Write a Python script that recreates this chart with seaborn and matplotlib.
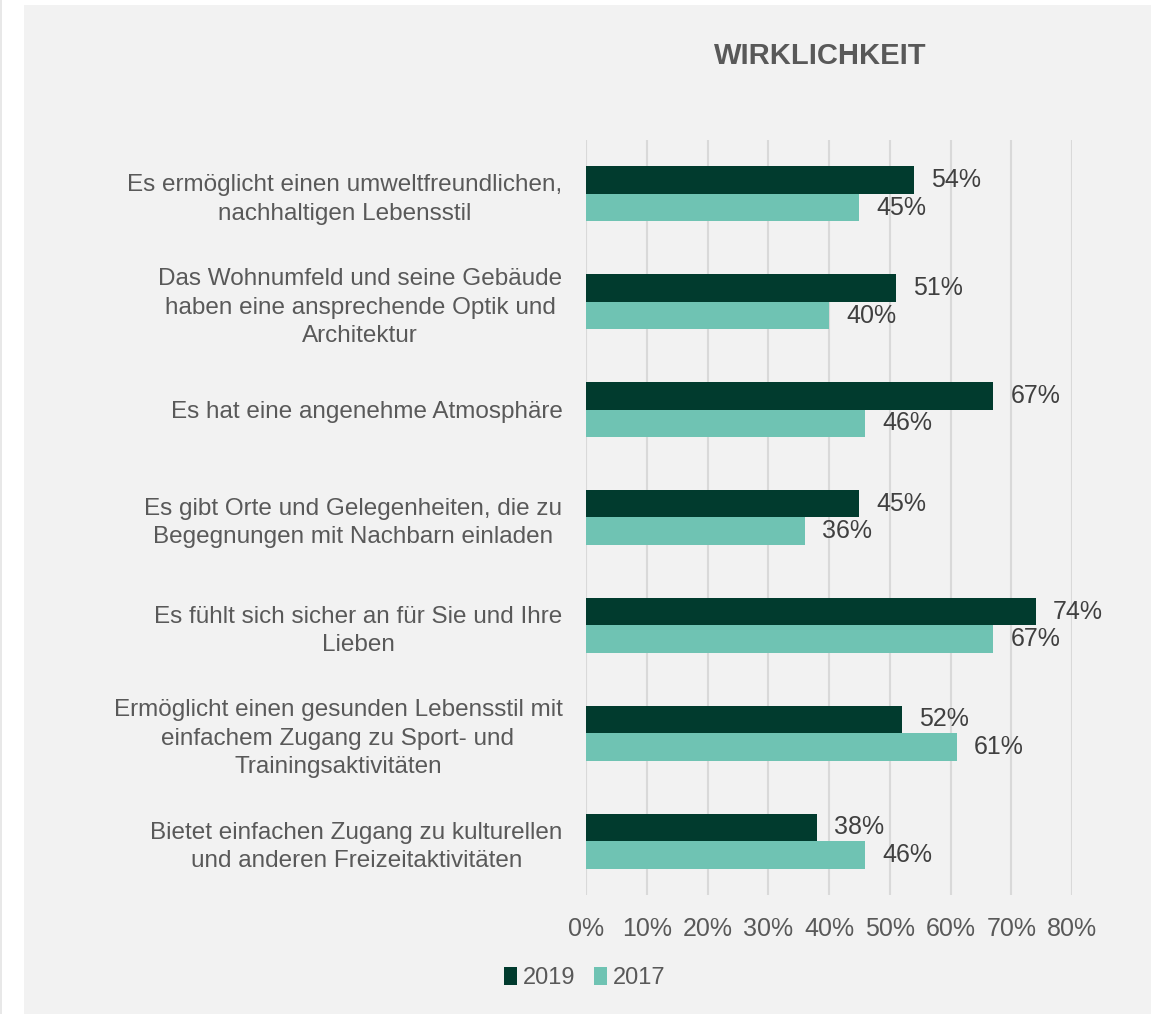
import pandas as pd
import matplotlib.pyplot as plt
import seaborn as sns
from matplotlib.patches import Patch, Rectangle

sns.set_style("white")
plt.rcParams['font.family'] = ['Liberation Sans', 'DejaVu Sans']

# data
categories = [
    "Es ermöglicht einen umweltfreundlichen,\nnachhaltigen Lebensstil",
    "Das Wohnumfeld und seine Gebäude\nhaben eine ansprechende Optik und\nArchitektur",
    "Es hat eine angenehme Atmosphäre",
    "Es gibt Orte und Gelegenheiten, die zu\nBegegnungen mit Nachbarn einladen",
    "Es fühlt sich sicher an für Sie und Ihre\nLieben",
    "Ermöglicht einen gesunden Lebensstil mit\neinfachem Zugang zu Sport- und\nTrainingsaktivitäten",
    "Bietet einfachen Zugang zu kulturellen\nund anderen Freizeitaktivitäten",
]
values_2019 = [54, 51, 67, 45, 74, 52, 38]
values_2017 = [45, 40, 46, 36, 67, 61, 46]
years = ["2019", "2017"]
xticks = [0, 10, 20, 30, 40, 50, 60, 70, 80]

colors = {"2019": "#013b2e", "2017": "#6fc3b3"}
grey = "#595959"
bg = "#f2f2f2"

df = pd.DataFrame({
    "cat": categories * 2,
    "value": values_2019 + values_2017,
    "year": ["2019"] * len(categories) + ["2017"] * len(categories),
})

fig = plt.figure(figsize=(11.59, 10.14), dpi=100, facecolor="white")
# grey panel behind everything
fig.patches.append(Rectangle((24 / 1159, 0), (1151 - 24) / 1159, 1 - 5 / 1014,
                             transform=fig.transFigure, facecolor=bg,
                             edgecolor="none", zorder=-10))
fig.patches.append(Rectangle((0, 0), 2 / 1159, 1, transform=fig.transFigure,
                             facecolor="#e8e8e8", edgecolor="none", zorder=-10))

ax = fig.add_axes([586 / 1159, 1 - 895 / 1014, (1072 - 586) / 1159, (895 - 140) / 1014])
ax.set_facecolor("none")

sns.barplot(data=df, y="cat", x="value", hue="year", hue_order=years,
            order=categories, palette=colors, orient="h", width=0.51,
            linewidth=0, saturation=1, ax=ax, legend=False)

# value labels
for container in ax.containers:
    for bar in container:
        w = bar.get_width()
        ax.annotate(f"{w:.0f}%", (w, bar.get_y() + bar.get_height() / 2),
                    xytext=(12.5, 0), textcoords="offset points",
                    ha="left", va="center", fontsize=18, color="#404040")

ax.set_xlim(0, 80)
ax.set_ylim(len(categories) - 0.5, -0.5)
ax.set_xticks(xticks)
ax.set_xticklabels([f"{t}%" for t in xticks], fontsize=18, color=grey)
ax.tick_params(axis="x", length=0, pad=16)
ax.tick_params(axis="y", length=0, pad=17)
for t in ax.get_yticklabels():
    t.set_fontsize(17.5)
    t.set_color(grey)
    t.set_multialignment("center")
    t.set_linespacing(1.38)
ax.set_xlabel("")
ax.set_ylabel("")
ax.grid(axis="x", color="#d9d9d9", linewidth=1.5)
ax.set_axisbelow(True)
for s in ax.spines.values():
    s.set_visible(False)

fig.text(820 / 1159, 1 - 56 / 1014, "WIRKLICHKEIT", ha="center", va="center",
         fontsize=21, fontweight="bold", color=grey)

handles = [Patch(facecolor=colors[y], edgecolor="none") for y in years]
fig.legend(handles, years, loc="center", bbox_to_anchor=(585 / 1159, 1 - 978 / 1014),
           ncol=2, frameon=False, handlelength=0.55, handleheight=0.8,
           handletextpad=0.25, columnspacing=0.8,
           prop={"size": 17}, labelcolor=grey)

plt.savefig("out.png", dpi=100, facecolor="white")
